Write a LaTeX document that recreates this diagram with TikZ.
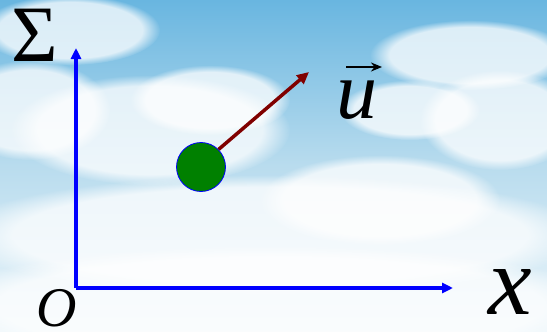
\documentclass[tikz,border=0pt]{standalone}
\usepackage{fontspec}
\setmainfont{Liberation Serif}
\usetikzlibrary{arrows.meta,fadings}
\definecolor{skytop}{RGB}{105,182,224}
\definecolor{skybot}{RGB}{236,246,251}
\definecolor{maroon}{RGB}{128,0,0}
\definecolor{ballgreen}{RGB}{0,128,0}
\tikzset{
  axis/.style={draw={rgb,255:red,0;green,0;blue,255}, line width=3.5pt, -{Triangle[length=11pt,width=10pt]}},
  vel/.style={draw=maroon, line width=3.5pt, -{Triangle[length=12pt,width=11pt]}},
  cloud/.style={fill=white, opacity=0.75, path fading=circle with fuzzy edge 20 percent},
  lbl/.style={inner sep=0pt, text=black, anchor=base}
}
\begin{document}
\begin{tikzpicture}[x=1pt,y=-1pt]
\useasboundingbox (0,0) rectangle (547,332);
\shade[top color=skytop, bottom color=skybot, middle color={rgb,255:red,185;green,220;blue,238}] (0,0) rectangle (547,332);
% clouds
\fill[cloud] (70,30) ellipse (90 and 35);
\fill[cloud] (30,110) ellipse (80 and 50);
\fill[cloud] (150,130) ellipse (140 and 55);
\fill[cloud] (210,100) ellipse (80 and 35);
\fill[cloud] (380,200) ellipse (120 and 45);
\fill[cloud] (470,55) ellipse (100 and 35);
\fill[cloud] (500,120) ellipse (80 and 50);
\fill[cloud] (410,110) ellipse (70 and 30);
\fill[cloud] (270,235) ellipse (320 and 60);
\fill[cloud] (270,305) ellipse (340 and 60);
% axes
\coordinate (O) at (76,288);
\coordinate (ytip) at (76,48);
\coordinate (xtip) at (453,288);
\draw[axis] (O) -- (ytip);
\draw[axis] (O) -- (xtip);
% ball
\node[circle, draw={rgb,255:red,0;green,0;blue,255}, line width=0.8pt, fill=ballgreen, minimum size=49pt, inner sep=0pt] (ball) at (201,167) {};
\coordinate (utip) at (309,72);
\draw[vel] (ball.45) -- (utip);
% labels
\node[lbl, font=\fontsize{80}{80}\selectfont] (sigma) at (35,61) {Σ};
\node[lbl, font=\fontsize{56}{60}\selectfont\itshape] (olabel) at (57,326) {O};
\node[lbl, font=\fontsize{98}{100}\selectfont\itshape] (xlabel) at (510,314) {x};
\node[lbl, font=\fontsize{82}{82}\selectfont\itshape] (ulabel) at (357,118) {u};
\coordinate (uvecA) at (346,67);
\coordinate (uvecB) at (382,67);
\draw[line width=2.4pt, -{Stealth[length=11pt,width=9pt]}] (uvecA) -- (uvecB);
\end{tikzpicture}
\end{document}
